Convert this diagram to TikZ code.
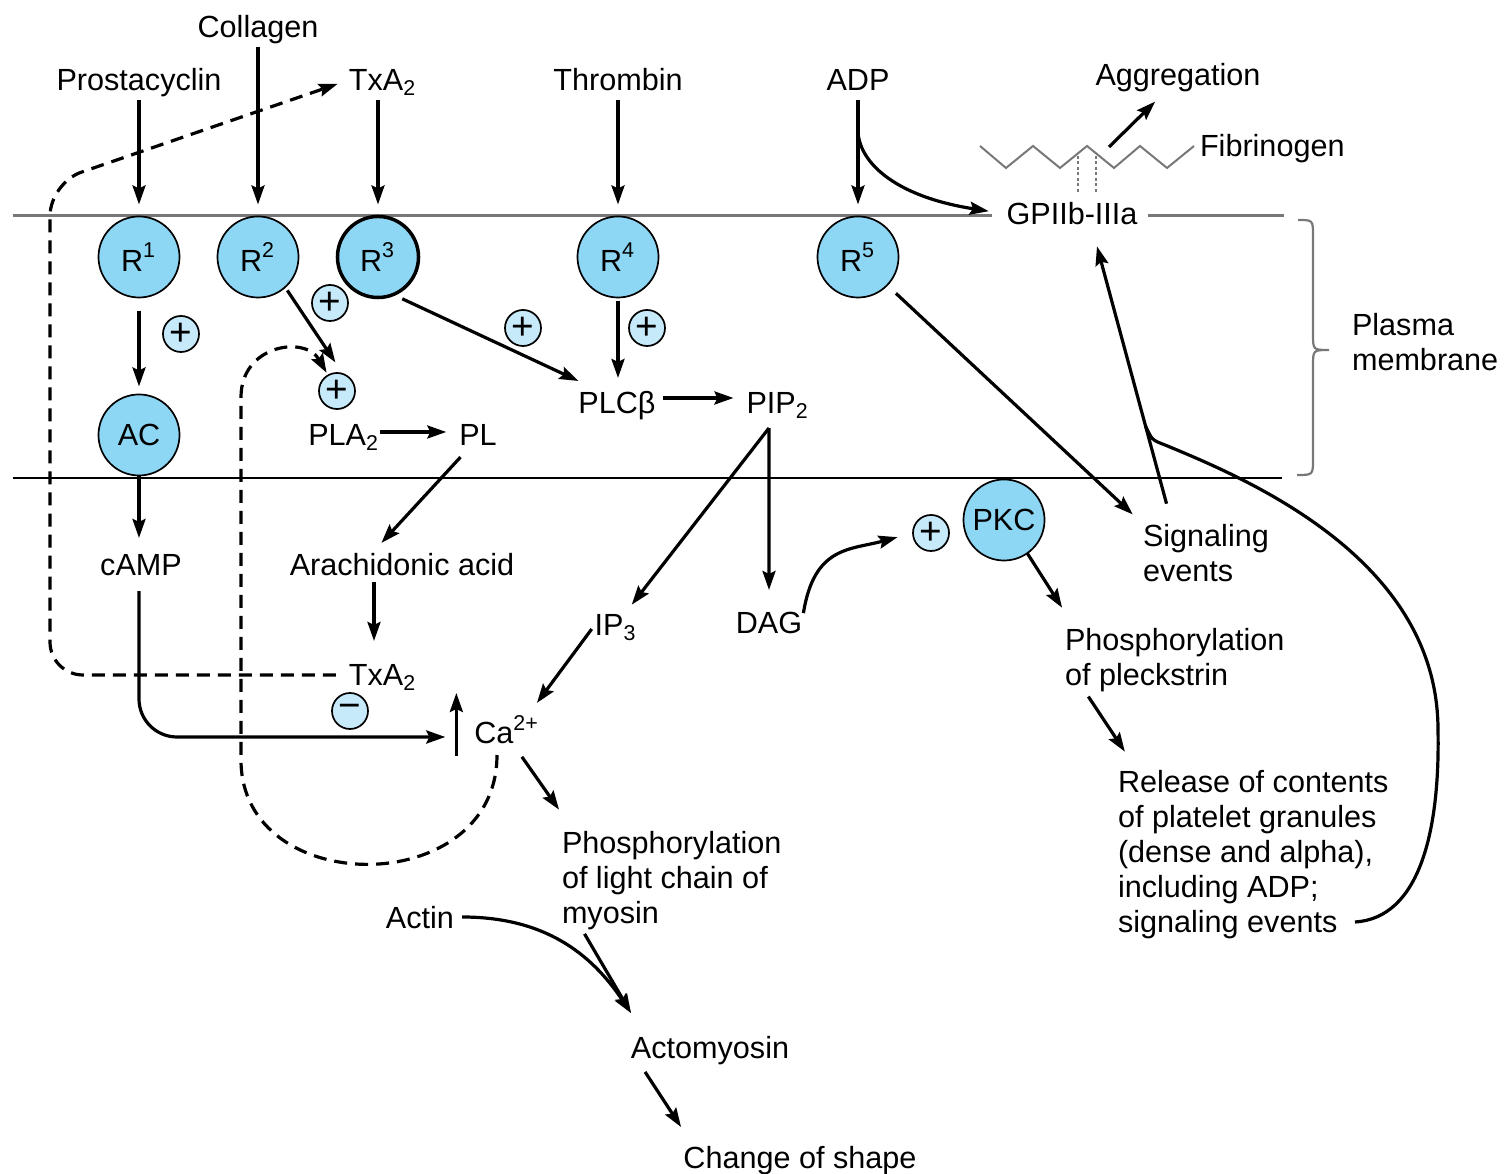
\documentclass[tikz,border=0pt]{standalone}
\usepackage{fontspec}
\setmainfont{Liberation Sans}
\usepackage{tikz}
\usetikzlibrary{arrows.meta, calc}

\definecolor{cellblue}{RGB}{141,214,244}
\definecolor{signblue}{RGB}{198,234,250}
\definecolor{memgray}{RGB}{120,120,120}

\begin{document}
\begin{tikzpicture}[x=0.01cm, y=-0.01cm,
  font=\fontsize{8.7}{9.96}\selectfont,
  txt/.style={inner sep=0, outer sep=0, text height=0.25cm, text depth=0.03cm},
  para/.style={inner sep=0, outer sep=0, align=left, anchor=north west},
  recep/.style={circle, draw, line width=0.017cm, fill=cellblue, minimum size=0.81cm, inner sep=0, outer sep=0},
  sign/.style={circle, draw, line width=0.017cm, fill=signblue, minimum size=0.36cm, inner sep=0, outer sep=0, font=\fontsize{11}{11}\selectfont},
  arr/.style={line width=0.032cm, -{Stealth[length=0.19cm, width=0.13cm, inset=0.03cm]}},
  dasharr/.style={arr, dash pattern=on 0.13cm off 0.08cm},
  memline/.style={line width=0.03cm, memgray}]
  \useasboundingbox (0,0) rectangle (1509,1174);

  \draw [memline] (13,216) -- (992,216) (1148,216) -- (1284,216);
  \draw [line width=0.02cm] (13,478) -- (1282,478);
  \draw [memgray, line width=0.022cm] (1298,220) .. controls (1313,220) .. (1313,236) -- (1313,334) .. controls (1313,350) .. (1329,350) .. controls (1313,350) .. (1313,366) -- (1313,459) .. controls (1313,475) .. (1297,475);
  \draw [memgray, line width=0.02cm] (980,146) -- (1006,168) -- (1033,146) -- (1060,168) -- (1087,146) -- (1114,168) -- (1140,146) -- (1167,168) -- (1194,146);
  \draw [memgray, line width=0.022cm, dash pattern=on 0.03cm off 0.025cm] (1078,156) -- (1078,193) (1096,156) -- (1096,193);

  \node [recep] (r1) at (139,257) {R\textsuperscript{1}};
  \node [recep] (r2) at (258,257) {R\textsuperscript{2}};
  \node [recep, line width=0.035cm] (r3) at (378,257) {R\textsuperscript{3}};
  \node [recep] (r4) at (618,257) {R\textsuperscript{4}};
  \node [recep] (r5) at (858,257) {R\textsuperscript{5}};
  \node [recep] (ac) at (139,435) {AC};
  \node [recep] (pkc) at (1004,520) {PKC};

  \node [sign] (p1) at (181,334) {+};
  \node [sign] (p2) at (330,303) {+};
  \node [sign] (p3) at (337,391) {+};
  \node [sign] (p4) at (523,328) {+};
  \node [sign] (p5) at (647,328) {+};
  \node [sign] (p6) at (931,533) {+};
  \node [sign] (m1) at (350,711) {−};

  \node [txt] (collagen) at (258,27) {Collagen};
  \node [txt] (prost) at (139,80) {Prostacyclin};
  \node [txt] (txa) at (383,80) {TxA\textsubscript{2}};
  \node [txt] (thrombin) at (618,80) {Thrombin};
  \node [txt] (adp) at (858,80) {ADP};
  \node [txt] (aggr) at (1178,75) {Aggregation};
  \node [txt, anchor=west] (fibr) at (1200,146) {Fibrinogen};
  \node [txt] (gp) at (1072,214) {GPIIb-IIIa};
  \node [para] (plasma) at (1352,313) {Plasma\\membrane};
  \node [txt] (pla) at (344,435) {PLA\textsubscript{2}};
  \node [txt] (pl) at (478,435) {PL};
  \node [txt] (plcb) at (617,403) {PLCβ};
  \node [txt] (pip) at (778,403) {PIP\textsubscript{2}};
  \node [txt] (camp) at (141,565) {cAMP};
  \node [txt] (arach) at (402,565) {Arachidonic acid};
  \node [txt] (txb) at (383,675) {TxA\textsubscript{2}};
  \node [txt] (ip3) at (616,625) {IP\textsubscript{3}};
  \node [txt] (dag) at (769,623) {DAG};
  \node [txt] (ca) at (507,733) {Ca\textsuperscript{2+}};
  \node [para] (sig) at (1143,524) {Signaling\\events};
  \node [para] (ppl) at (1065,628) {Phosphorylation\\of pleckstrin};
  \node [para] (rel) at (1118,770) {Release of contents\\of platelet granules\\(dense and alpha),\\including ADP;\\signaling events};
  \node [para] (pmyo) at (562,831) {Phosphorylation\\of light chain of\\myosin};
  \node [txt] (actin) at (420,917) {Actin};
  \node [txt] (acto) at (710,1047) {Actomyosin};
  \node [txt] (shape) at (800,1157) {Change of shape};

  \draw [arr, shorten <=0.06cm, shorten >=0.12cm] (prost)--(r1);
  \draw [arr, shorten <=0.06cm, shorten >=0.12cm] (collagen)--(r2);
  \draw [arr, shorten <=0.06cm, shorten >=0.12cm] (r3 |- txa.south)--(r3);
  \draw [arr, shorten <=0.06cm, shorten >=0.12cm] (thrombin)--(r4);
  \draw [arr, shorten <=0.06cm, shorten >=0.12cm] (adp)--(r5);
  \draw [arr, shorten >=0.18cm] (adp.south) ++(0,36) .. controls +(0,30) and +(-115,-18) .. (gp.west);

  \draw [arr, shorten <=0.13cm, shorten >=0.08cm] (r1)--(ac);
  \draw [arr, shorten >=0.13cm] (ac)--(ac |- camp.north);
  \draw [arr, rounded corners=0.38cm, shorten <=0.12cm, shorten >=0.29cm] (camp.south -| ac) |- ([yshift=-0.04cm]ca.west);
  \draw [arr] ([xshift=-0.18cm,yshift=-0.09cm]ca.south west)--([xshift=-0.18cm,yshift=0.26cm]ca.north west);

  \draw [arr, shorten <=0.04cm, shorten >=0.14cm] (r2.-48)--(p3.70);
  \draw [arr, shorten <=0.1cm] (r3.-68)--([yshift=0.08cm]plcb.north west);
  \draw [arr, shorten <=0.03cm, shorten >=0.11cm] (r4)--(r4 |- plcb.north);
  \draw [arr, shorten <=0.07cm, shorten >=0.13cm] ([yshift=0.05cm]plcb.east)--([yshift=0.05cm]pip.west);
  \draw [arr, shorten >=0.13cm] ([yshift=0.03cm]pla.east)--([yshift=0.03cm]pl.west);
  \draw [arr, shorten <=0.11cm, shorten >=0.11cm] ([xshift=-0.1cm]pl.south)--([xshift=-0.28cm]arach.north);
  \coordinate (txbtop) at ([xshift=-0.09cm]txb.north);
  \draw [arr, shorten <=0.03cm, shorten >=0.2cm] (txbtop |- arach.south)--(txbtop);

  \draw [dasharr, rounded corners=0.33cm, shorten <=0.13cm, shorten >=0.12cm] (txb.west) -- (50,675) -- (50,183) -- (txa.west);
  \draw [dasharr, shorten <=0.08cm, shorten >=0.03cm] ([xshift=-0.1cm]ca.south) .. controls (497,900) and (241,900) .. (241,760) -- (241,397) .. controls (241,345) and (305,335) .. (p3);

  \coordinate (pipv) at ([xshift=-0.09cm, yshift=-0.11cm]pip.south);
  \draw [arr, shorten >=0.19cm] (pipv)--(dag);
  \draw [arr, shorten >=0.08cm] (pipv)--(ip3);
  \draw [arr, shorten <=0.05cm, shorten >=0.2cm] (ip3.west)--([xshift=0.18cm]ca.north);
  \draw [arr, shorten <=0.12cm, shorten >=0.26cm] ([xshift=0.08cm]ca.south)--([xshift=0.12cm]pmyo.north west);

  \draw [arr, shorten <=0.05cm] ([xshift=0.2cm]pmyo.south west)--([yshift=0.2cm]acto.north west);
  \draw [arr, shorten <=0.08cm] (actin.east) .. controls +(90,0) and +(-40,-60) .. ([yshift=0.2cm]acto.north west);
  \draw [arr, shorten <=0.13cm, shorten >=0.19cm] ([xshift=0.07cm]acto.south west)--([xshift=0.08cm]shape.north west);

  \draw [arr, shorten <=0.08cm, shorten >=0.16cm] ([yshift=0.02cm]dag.east) .. controls +(12,-75) and +(-63,17) .. (p6.west);
  \draw [arr, shorten >=0.24cm] (pkc.-55)--([xshift=0.1cm]ppl.north west);
  \draw [arr, shorten <=0.06cm, shorten >=0.22cm] ([xshift=0.2cm]ppl.south west)--([xshift=0.19cm]rel.north west);
  \draw [arr, shorten <=0.12cm, shorten >=0.14cm] (r5.-44)--(sig.north west);

  \coordinate (sigtop) at ([xshift=0.29cm]sig.north west);
  \coordinate (gpbot) at ([xshift=0.2cm]gp.south);
  \draw [arr, shorten <=0.21cm, shorten >=0.19cm] (sigtop)--(gpbot);
  \coordinate (join) at ($(sigtop)!0.33!(gpbot)$);
  \coordinate (relend) at (1355,922);
  \draw [line width=0.032cm] (relend) .. controls (1420,918) and (1440,830) .. (1438,730) .. controls (1438,560) and (1250,480) .. (1165,445) .. controls (1152,440) .. (join);

  \coordinate (fibtop) at (1109,147);
  \draw [arr, shorten >=0.18cm] (fibtop)--([xshift=-0.1cm]aggr.south);
\end{tikzpicture}
\end{document}
